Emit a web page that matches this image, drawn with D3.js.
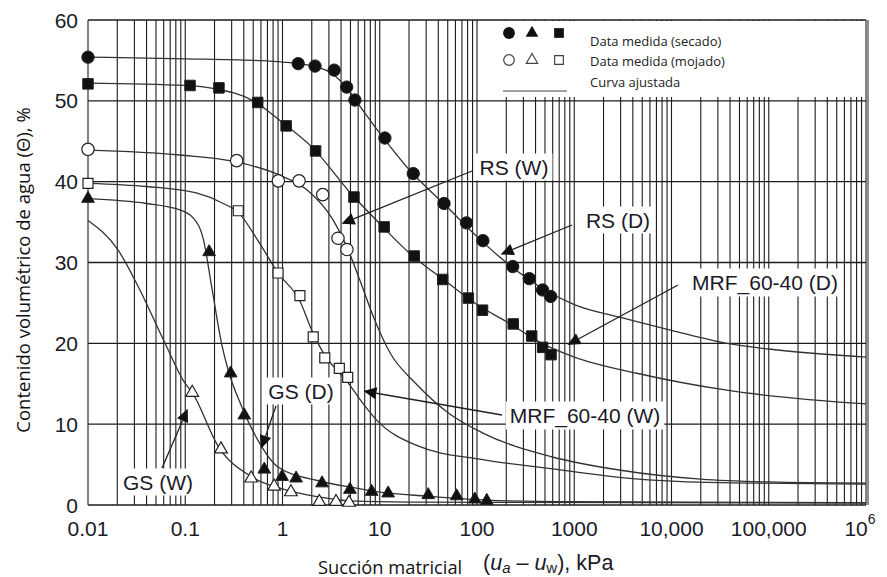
<!DOCTYPE html>
<html><head><meta charset="utf-8">
<script src="https://cdn.jsdelivr.net/npm/d3@7"></script>
<style>body{margin:0;background:#fff}svg{display:block}</style>
</head><body>
<svg id="c" width="887" height="577"></svg>
<script>
// ---- data ----
const xTicks = [0.01,0.1,1,10,100,1000,1e4,1e5,1e6];
const xTickLabels = ["0.01","0.1","1","10","100","1000","10,000","100,000","10^6"];
const yTicks = [0,10,20,30,40,50,60];

// measured points [suction kPa, water content %]
const rsDry = [[0.01,55.4],[1.45,54.6],[2.16,54.3],[3.4,53.8],[4.57,51.7],[5.56,50.1],[11.3,45.4],[22.1,41.0],[45.8,37.3],[78,34.9],[115,32.7],[233,29.5],[345,28.0],[473,26.6],[572,25.8]];
const mrfDry = [[0.01,52.1],[0.112,51.9],[0.222,51.6],[0.556,49.8],[1.09,46.9],[2.19,43.8],[5.43,38.1],[11.1,34.4],[22.6,30.8],[44.4,27.9],[81.5,25.6],[114,24.1],[236,22.4],[365,20.9],[473,19.5],[577,18.6]];
const rsWet = [[0.01,44.0],[0.338,42.6],[0.906,40.1],[1.48,40.1],[2.59,38.4],[3.72,33.0],[4.6,31.6]];
const mrfWet = [[0.01,39.8],[0.351,36.4],[0.9,28.7],[1.51,25.9],[2.07,20.8],[2.72,18.2],[3.84,16.9],[4.68,15.8]];
const gsDry = [[0.01,37.9],[0.176,31.3],[0.293,16.3],[0.405,11.1],[0.65,4.4],[0.99,3.5],[1.38,3.3],[2.55,2.7],[4.94,1.9],[8.26,1.65],[12.2,1.45],[31.5,1.24],[61.8,1.1],[95,0.7],[126,0.53]];
const gsWet = [[0.118,13.9],[0.233,6.9],[0.476,3.3],[0.82,2.3],[1.22,1.6],[2.39,0.4],[3.55,0.4],[4.83,0.3]];

// fitted curves
const rsDryFit = [[0.01,55.4],[0.1,55.2],[0.5,55.0],[1,54.8],[2,54.3],[3,53.6],[4,52.4],[5,51.0],[7,48.5],[10,46.0],[20,41.5],[50,36.8],[100,33.2],[200,30.0],[500,26.6],[1000,24.8],[3000,23.2],[10000,21.6],[37000,20.0],[100000,19.3],[1e6,18.3]];
const mrfDryFit = [[0.01,52.2],[0.1,51.9],[0.2,51.5],[0.5,50.0],[1,47.3],[2,44.3],[5,38.6],[10,34.8],[20,31.2],[50,27.5],[100,24.8],[200,22.7],[500,19.8],[1000,18.3],[4400,16.3],[37000,14.2],[1e6,12.5]];
const rsWetFit = [[0.01,43.9],[0.088,43.3],[0.32,42.5],[0.94,40.8],[1.78,39.0],[3.3,35.3],[4.57,32.0],[6.25,27.8],[8.6,23.3],[12.8,18.8],[23.6,15.0],[52,11.3],[115,8.9],[572,6.0],[3000,4.3],[20000,3.2],[100000,2.85],[1e6,2.7]];
const mrfWetFit = [[0.01,39.8],[0.04,39.4],[0.13,38.6],[0.246,37.3],[0.35,36.2],[0.58,32.4],[0.9,28.7],[1.5,25.3],[2.07,21.2],[2.7,18.6],[3.8,16.4],[4.6,15.3],[6.5,12.8],[9.3,10.5],[23.6,7.4],[115,5.6],[572,4.5],[3700,3.3],[23700,2.8],[1e6,2.6]];
const gsDryFit = [[0.01,37.9],[0.04,37.3],[0.088,36.5],[0.121,35.5],[0.154,32.8],[0.187,27.0],[0.236,20.0],[0.276,16.7],[0.38,12.2],[0.56,8.0],[0.9,4.7],[2.35,3.0],[5,2.2],[10,1.6],[30,1.1],[126,0.6],[1000,0.4],[1e6,0.3]];
const gsWetFit = [[0.01,35.2],[0.0205,31.5],[0.0329,27.0],[0.062,20.0],[0.099,15.1],[0.118,13.9],[0.22,7.2],[0.48,3.5],[1.06,1.9],[2.35,1.0],[5,0.5],[20,0.35],[1e6,0.25]];

// ---- chart ----
const svg = d3.select("#c");
const x = d3.scaleLog().domain([0.01,1e6]).range([88,866]);
const y = d3.scaleLinear().domain([0,60]).range([505,20]);
const ink = "#1c1c1c";

// grid
const minor = [];
for (let e=-2;e<6;e++) for (let m=1;m<10;m++) minor.push(m*Math.pow(10,e));
minor.push(1e6);
svg.append("g").selectAll("line").data(minor).join("line")
  .attr("x1",d=>x(d)).attr("x2",d=>x(d)).attr("y1",y(60)).attr("y2",y(0))
  .attr("stroke",ink).attr("stroke-width",1.1);
svg.append("g").selectAll("line").data(yTicks).join("line")
  .attr("x1",x(0.01)).attr("x2",x(1e6)).attr("y1",d=>y(d)).attr("y2",d=>y(d))
  .attr("stroke",ink).attr("stroke-width",1.3);
svg.append("line").attr("x1",x(1e6)+2).attr("x2",x(1e6)+2).attr("y1",y(60)).attr("y2",y(0)).attr("stroke",ink).attr("stroke-width",1);

// legend background
svg.append("rect").attr("x",493).attr("y",21).attr("width",x(1e6)-494).attr("height",76).attr("fill","#fff");

// labels
const labels = [
  {t:"RS (W)", x:514, y:167},
  {t:"RS (D)", x:618, y:220},
  {t:"MRF_60-40 (D)", x:765, y:282},
  {t:"MRF_60-40 (W)", x:585, y:415},
  {t:"GS (D)", x:301, y:391},
  {t:"GS (W)", x:158, y:482}
];

// curves
const line = d3.line().x(d=>x(d[0])).y(d=>y(d[1])).curve(d3.curveMonotoneX);
[rsDryFit,mrfDryFit,rsWetFit,mrfWetFit,gsDryFit,gsWetFit].forEach(c=>{
  svg.append("path").attr("d",line(c)).attr("fill","none").attr("stroke","#333").attr("stroke-width",1.3);
});

labels.forEach(l=>{
  const t = svg.append("text").attr("x",l.x).attr("y",l.y).attr("text-anchor","middle").attr("dominant-baseline","central")
    .attr("font-family","Liberation Sans, Arial, sans-serif").attr("font-size",21).attr("fill","#1a1a28").text(l.t);
  const b = t.node().getBBox();
  svg.insert("rect", "text").attr("x",b.x-4).attr("y",b.y-2).attr("width",b.width+8).attr("height",b.height+4).attr("fill","#fff");
});

// arrows from label to curve
const arrowDefs = [
  {s:[472,171], e:[4.05,34.8]},
  {s:[572,225], e:[175,31.0]},
  {s:[678,285], e:[850,19.8]},
  {s:[502,415], e:[6.8,14.1]},
  {s:[276,406], e:[0.605,7.0]},
  {s:[162,468], e:[0.106,11.9]}
];
arrowDefs.forEach(a=>{
  const ex=x(a.e[0]), ey=y(a.e[1]);
  const [sx,sy]=a.s;
  const ang=Math.atan2(ey-sy,ex-sx);
  const L=13, W=6;
  const bx=ex-L*Math.cos(ang), by=ey-L*Math.sin(ang);
  svg.append("line").attr("x1",sx).attr("y1",sy).attr("x2",bx).attr("y2",by).attr("stroke","#222").attr("stroke-width",1.3);
  svg.append("path").attr("d",`M${ex},${ey}L${bx+W*Math.sin(ang)},${by-W*Math.cos(ang)}L${bx-W*Math.sin(ang)},${by+W*Math.cos(ang)}Z`).attr("fill","#111");
});

// markers
const sym = (type,size)=>d3.symbol().type(type).size(size);
function drawPts(data, type, size, filled){
  svg.append("g").selectAll("path").data(data).join("path")
    .attr("transform",d=>`translate(${x(d[0])},${y(d[1])})`)
    .attr("d",sym(type,size)())
    .attr("fill",filled?"#111":"#fff").attr("stroke","#222").attr("stroke-width",filled?1:1.2);
}
drawPts(rsDry,d3.symbolCircle,120,true);
drawPts(mrfDry,d3.symbolSquare,110,true);
drawPts(gsDry,d3.symbolTriangle,70,true);
drawPts(rsWet,d3.symbolCircle,120,false);
drawPts(mrfWet,d3.symbolSquare,100,false);
drawPts(gsWet,d3.symbolTriangle,70,false);

// legend
const lg = svg.append("g");
[[509,d3.symbolCircle,110],[532,d3.symbolTriangle,70],[559,d3.symbolSquare,95]].forEach(s=>{
  lg.append("path").attr("transform",`translate(${s[0]},33)`).attr("d",sym(s[1],s[2])()).attr("fill","#111");
  lg.append("path").attr("transform",`translate(${s[0]},60)`).attr("d",sym(s[1],s[2]*0.8)()).attr("fill","#fff").attr("stroke","#444").attr("stroke-width",1.2);
});
lg.append("line").attr("x1",503).attr("x2",567).attr("y1",91).attr("y2",91).attr("stroke","#444").attr("stroke-width",1.2);
const legTexts = ["Data medida (secado)","Data medida (mojado)","Curva ajustada"];
legTexts.forEach((t,i)=>{
  lg.append("text").attr("x",590).attr("y",[41,61,82][i]).attr("dominant-baseline","central")
    .attr("font-family","Open Sans, sans-serif").attr("font-size",13).attr("fill","#222").text(t);
});

// tick labels
const tf = "Liberation Sans, Arial, sans-serif";
svg.append("g").selectAll("text").data(yTicks).join("text")
  .attr("x",78).attr("y",d=>y(d)).attr("text-anchor","end").attr("dominant-baseline","central")
  .attr("font-family",tf).attr("font-size",21).attr("fill","#1a1a28").text(d=>d);
xTicks.forEach((v,i)=>{
  const lab = xTickLabels[i];
  const t = svg.append("text").attr("x",x(v)).attr("y",528).attr("text-anchor","middle").attr("dominant-baseline","central")
    .attr("font-family",tf).attr("font-size",21).attr("fill","#1a1a28");
  if (lab.indexOf("^")>0){
    const [b,e]=lab.split("^");
    t.attr("x",x(v)-6);
    t.append("tspan").text(b);
    t.append("tspan").attr("dy",-9).attr("font-size",14).text(e);
  } else t.text(lab);
});

// axis titles
svg.append("text").attr("transform","translate(22,270) rotate(-90)").attr("text-anchor","middle").attr("dominant-baseline","central")
  .attr("font-family","Open Sans, sans-serif").attr("font-size",18.5).attr("fill","#111").text("Contenido volumétrico de agua (Θ), %");
const xt = svg.append("text").attr("x",318).attr("y",566).attr("dominant-baseline","central").attr("fill","#111");
xt.append("tspan").attr("font-family","Open Sans, sans-serif").attr("font-size",18.3).text("Succión matricial");
const xt2 = svg.append("text").attr("x",483).attr("y",563).attr("dominant-baseline","central").attr("fill","#1a1a28").attr("font-family",tf).attr("font-size",21.5);
xt2.append("tspan").text("(");
xt2.append("tspan").attr("font-style","italic").text("u");
xt2.append("tspan").attr("font-style","italic").attr("font-size",15).attr("dy",4).text("a");
xt2.append("tspan").attr("dy",-4).text(" – ");
xt2.append("tspan").attr("font-style","italic").text("u");
xt2.append("tspan").attr("font-size",15).attr("dy",4).text("w");
xt2.append("tspan").attr("dy",-4).text("), kPa");
</script>
</body></html>
